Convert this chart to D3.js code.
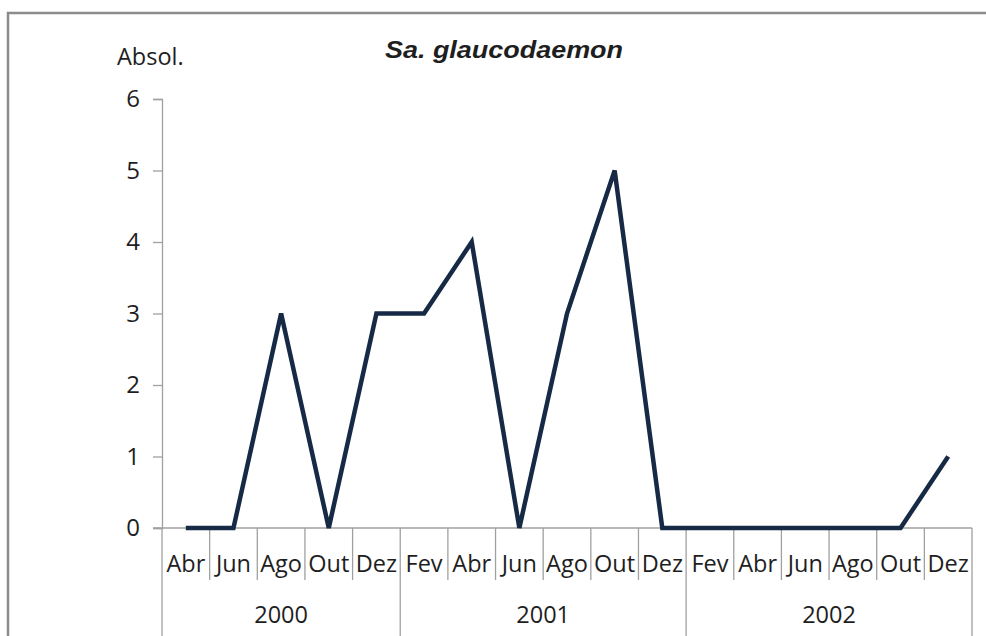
<!DOCTYPE html>
<meta charset="utf-8">
<style>
body { margin: 0; background: #fff; }
text { font-family: "Open Sans", sans-serif; fill: #1e1e1e; }
.line { fill: none; stroke: #172a45; stroke-width: 4.5px; stroke-linejoin: miter; }
</style>
<script src="https://d3js.org/d3.v7.min.js"></script>
<body>
<div id="chart"></div>
</body>
<script>
// data
var months = ["Abr", "Jun", "Ago", "Out", "Dez",
              "Fev", "Abr", "Jun", "Ago", "Out", "Dez",
              "Fev", "Abr", "Jun", "Ago", "Out", "Dez"];
var years = ["2000", "2001", "2002"];
var yearCounts = [5, 6, 6];
var values = [0, 0, 3, 0, 3, 3, 4, 0, 3, 5, 0, 0, 0, 0, 0, 0, 1];
var yTicks = [0, 1, 2, 3, 4, 5, 6];

var W = 986, H = 636;
var plotLeft = 162, plotRight = 972, plotTop = 99, plotBottom = 528;

var svg = d3.select("#chart").append("svg")
    .attr("width", W)
    .attr("height", H);

// outer frame (continues past the picture)
svg.append("rect")
    .attr("x", 8).attr("y", 13)
    .attr("width", W + 20).attr("height", H + 20)
    .attr("fill", "none")
    .attr("stroke", "#8c8c8c")
    .attr("stroke-width", 2.5);

var x = d3.scaleBand().domain(d3.range(months.length)).range([plotLeft, plotRight]);
var y = d3.scaleLinear().domain([0, 6]).range([plotBottom, plotTop]);

// y axis
var yAxis = svg.append("g")
    .attr("transform", "translate(" + plotLeft + ",0)")
    .call(d3.axisLeft(y).tickValues(yTicks).tickSize(9).tickPadding(13).tickFormat(d3.format("d")));
yAxis.select(".domain").attr("stroke", "#a0a0a0").attr("stroke-width", 1.3);
yAxis.selectAll(".tick line").attr("stroke", "#a0a0a0").attr("stroke-width", 1.3);
yAxis.selectAll(".tick text")
    .style("font-family", "'Open Sans', sans-serif")
    .style("font-size", "24px")
    .attr("fill", "#1e1e1e");

// x axis baseline
svg.append("line")
    .attr("x1", plotLeft - 9).attr("x2", plotRight)
    .attr("y1", plotBottom).attr("y2", plotBottom)
    .attr("stroke", "#a0a0a0").attr("stroke-width", 1.3);

// month separators and labels
var bounds = d3.range(months.length + 1);
var yearStarts = [0];
yearCounts.forEach(function(c, i) { yearStarts.push(yearStarts[i] + c); });

svg.append("g").selectAll("line")
  .data(bounds)
  .join("line")
    .attr("x1", function(i) { return plotLeft + i * x.bandwidth(); })
    .attr("x2", function(i) { return plotLeft + i * x.bandwidth(); })
    .attr("y1", plotBottom)
    .attr("y2", function(i) { return yearStarts.indexOf(i) >= 0 ? H + 5 : 580; })
    .attr("stroke", "#a0a0a0").attr("stroke-width", 1.3);

svg.append("g").selectAll("text")
  .data(months)
  .join("text")
    .attr("x", function(d, i) { return x(i) + x.bandwidth() / 2; })
    .attr("y", 572)
    .attr("text-anchor", "middle")
    .style("font-size", "23.5px")
    .text(function(d) { return d; });

svg.append("g").selectAll("text")
  .data(years)
  .join("text")
    .attr("x", function(d, i) {
      return plotLeft + (yearStarts[i] + yearCounts[i] / 2) * x.bandwidth();
    })
    .attr("y", 623)
    .attr("text-anchor", "middle")
    .style("font-size", "23.5px")
    .text(function(d) { return d; });

// series line
var line = d3.line()
    .x(function(d, i) { return x(i) + x.bandwidth() / 2; })
    .y(function(d) { return y(d); });

svg.append("path")
    .datum(values)
    .attr("class", "line")
    .attr("d", line);

// title and unit label
svg.append("text")
    .attr("x", 385).attr("y", 58)
    .attr("textLength", 238)
    .attr("lengthAdjust", "spacingAndGlyphs")
    .style("font-family", "'Liberation Sans', Arial, sans-serif")
    .style("font-size", "24px")
    .style("font-weight", "bold")
    .style("font-style", "italic")
    .attr("fill", "#000")
    .text("Sa. glaucodaemon");

svg.append("text")
    .attr("x", 117).attr("y", 65)
    .style("font-size", "23.5px")
    .text("Absol.");
</script>
